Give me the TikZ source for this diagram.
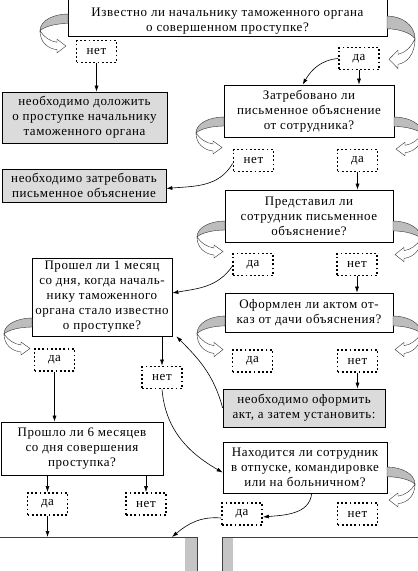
\documentclass[tikz,border=0pt]{standalone}
\usepackage{fontspec}
\setmainfont{Liberation Serif}[LetterSpace=4.5]
\usetikzlibrary{arrows.meta,calc}
\definecolor{boxgray}{gray}{0.86}
\definecolor{swgray}{gray}{0.74}
\begin{document}
\begin{tikzpicture}[x=1pt,y=1pt,
  every node/.style={font=\fontsize{13}{15}\selectfont},
  box/.style={draw, line width=0.7pt, align=center, inner sep=0pt},
  gbox/.style={box, fill=boxgray},
  lab/.style={draw, line width=1.8pt, dash pattern=on 1.8pt off 2.4pt,
    minimum width=40pt, minimum height=22pt, inner sep=0pt},
  arr/.style={-{Latex[length=6pt,width=4pt]}, line width=0.6pt},
  swoosh/.pic={
    \filldraw[fill=swgray, draw=black!80, line width=0.4pt]
      (0,0) .. controls (-14,0) and (-28,-6) .. (-28,-16)
      .. controls (-24,-12) and (-12,-9) .. (0,-9) -- cycle;
    \filldraw[fill=white, draw=black!80, line width=0.4pt]
      (-28,-16) .. controls (-24,-22) and (-18,-26) .. (-11,-27)
      -- (-11,-24) -- (-2,-30.5) -- (-11,-37) -- (-11,-34)
      .. controls (-20,-33) and (-28,-27) .. (-28,-16) -- cycle;
  }
]
\clip (0,0) rectangle (418,-571);
\useasboundingbox (0,0) rectangle (418,-571);

% main boxes
\node[box, minimum width=319pt, minimum height=40pt] (B1) at (227.5,-16.5) {\rule{0pt}{18pt}Известно ли начальнику таможенного органа\\о совершенном проступке?};
\node[gbox, minimum width=165pt, minimum height=51pt] (G1) at (84.5,-117.5) {необходимо доложить\\о проступке начальнику\\таможенного органа};
\node[box, minimum width=170pt, minimum height=52pt] (B2) at (309,-111) {Затребовано ли\\письменное объяснение\\от сотрудника?};
\node[gbox, minimum width=164pt, minimum height=33pt] (G2) at (84,-185.5) {необходимо затребовать\\письменное объяснение};
\node[box, minimum width=168pt, minimum height=52pt] (B3) at (309,-216) {Представил ли\\сотрудник письменное\\объяснение?};
\node[box, minimum width=140pt, minimum height=78pt] (B4) at (102,-297) {Прошел ли 1 месяц\\со дня, когда началь-\\нику таможенного\\органа стало известно\\о проступке?};
\node[box, minimum width=168pt, minimum height=39pt] (B5) at (309,-312.5) {Оформлен ли актом от-\\каз от дачи объяснения?};
\node[gbox, minimum width=162pt, minimum height=38pt] (G3) at (304,-408) {необходимо оформить\\акт, а затем установить:};
\node[box, minimum width=162pt, minimum height=53pt] (B6) at (82,-448.5) {Прошло ли 6 месяцев\\со дня совершения\\проступка?};
\node[box, minimum width=164pt, minimum height=51pt] (B7) at (305,-467.5) {Находится ли сотрудник\\в отпуске, командировке\\или на больничном?};

% labels
\node[lab] (L1n) at (96.5,-51.5) {нет};
\node[lab] (L1d) at (359,-58.5) {да};
\node[lab] (L2n) at (253.5,-160.5) {нет};
\node[lab] (L2d) at (357.5,-160.5) {да};
\node[lab] (L3d) at (253,-264.5) {да};
\node[lab] (L3n) at (357,-264.5) {нет};
\node[lab] (L4d) at (54.5,-360) {да};
\node[lab] (L4n) at (162,-377.5) {нет};
\node[lab] (L5d) at (252.5,-361) {да};
\node[lab] (L5n) at (357.5,-361) {нет};
\node[lab] (L6d) at (47.5,-504) {да};
\node[lab] (L6n) at (146,-504) {нет};
\node[lab] (L7d) at (242,-514) {да};
\node[lab] (L7n) at (357.5,-514) {нет};

% swooshes
\pic[yscale=1.05] at (68,-14) {swoosh};
\pic[xscale=-1, yscale=1.42] at (387,-16) {swoosh};
\pic[yscale=1.0] at (224,-117) {swoosh};
\pic[xscale=-1, yscale=1.05] at (394,-117) {swoosh};
\pic[yscale=1.0] at (225,-221) {swoosh};
\pic[xscale=-1, yscale=1.1] at (393,-221) {swoosh};
\pic[yscale=1.0] at (32,-318) {swoosh};
\pic[yscale=1.1] at (225,-316) {swoosh};
\pic[xscale=-1, yscale=1.1] at (393,-316) {swoosh};
\pic[xscale=-1, yscale=1.08] at (387,-467) {swoosh};

% bottom line
\coordinate (H1) at (0,-537);
\coordinate (H2) at (197,-537);
\coordinate (H3) at (222,-537);
\coordinate (H4) at (418,-537);
\coordinate (HT) at (172,-537);
\fill[boxgray!90!black] (185,-537) rectangle (197,-571);
\fill[boxgray!90!black] (222,-537) rectangle (233,-571);
\draw[line width=0.9pt, black!75] (H1) -- (H2) -- (197,-571);
\draw[line width=0.9pt, black!75] (222,-571) -- (H3) -- (H4);

% arrows
\draw[arr] (L1n.south) -- (L1n.south |- G1.north);
\draw[arr] (L1d.south) -- (L1d.south |- B2.north);
\draw[arr] (L1d.west) to[out=185,in=60] ($(B2.north west)+(79,0)$);
\draw[arr] ($(L2n.west)+(0,-3)$) to[out=240,in=5] ($(G2.east)+(0,-3)$);
\draw[arr] (L2d.south) -- (L2d.south |- B3.north);
\draw[arr] ($(L3d.west)+(0,-2)$) to[out=235,in=10] ($(B4.east)+(0,4)$);
\draw[arr] (L3n.south) -- (L3n.south |- B5.north);
\draw[arr] (L4n.north |- B4.south) -- (L4n.north);
\draw[arr] (L5n.south) -- (L5n.south |- G3.north);
\draw[arr] (G3.west) to[out=105,in=-45] ($(B4.south east)+(4,0)$);
\draw[arr] (L4d.south) -- (L4d.south |- B6.north);
\draw[arr] (L4n.south) to[out=-85,in=150] ($(B7.west)+(0,-5)$);
\draw[arr] (L6d.north |- B6.south) -- (L6d.north);
\draw[arr] (L6n.north |- B6.south) -- (L6n.north);
\draw[arr] (L6d.south) -- (L6d.south |- H1);
\draw[arr] ($(B7.south west)+(89,0)$) to[out=-95,in=5] ($(L7d.east)+(0,-3)$);
\draw[arr] ($(L7d.west)+(0,-4)$) to[out=175,in=40] (HT);
\end{tikzpicture}
\end{document}
